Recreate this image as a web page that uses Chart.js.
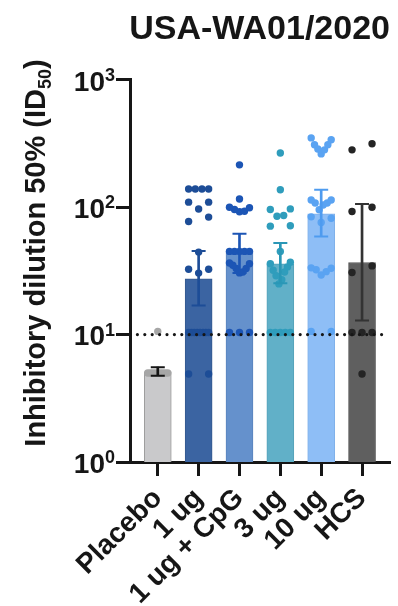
<!DOCTYPE html>
<html>
<head>
<meta charset="utf-8">
<script src="https://cdn.jsdelivr.net/npm/chart.js@4.4.1/dist/chart.umd.min.js"></script>
<style>
  html, body { margin: 0; padding: 0; background: #fff; }
  canvas { display: block; }
</style>
</head>
<body>
<canvas id="neut" width="398" height="606"></canvas>
<script>
// groups on the x axis
var groups = ['Placebo', '1 ug', '1 ug + CpG', '3 ug', '10 ug', 'HCS'];

// geometric mean (bar height) and error bar ends, per group
var gmt = [5.1, 27.4, 44.9, 35.9, 88.8, 36.8];
var errLow = [4.75, 16.9, 30.5, 25.3, 58.9, 12.9];
var errHigh = [5.55, 45.4, 61.8, 52.3, 137, 106];

// individual animals
var placebo = [10.6, 5, 5, 5, 5, 5, 5, 5, 5, 5];
var ug1 = [139, 139, 139, 139, 109.6, 109.6, 96.7, 83.6, 77.2, 44.4, 32.6, 32.6, 30.4,
           10.4, 10.4, 10.4, 10.4, 10.4, 10.4, 10.4, 10.4, 4.9, 4.9];
var ug1CpG = [215, 116, 100, 99, 96, 93, 92, 45, 45, 45, 45, 45,
              36.5, 35, 33, 31, 30.5, 33, 36, 10.4, 10.4, 10.4];
var ug3 = [266, 137, 97, 96, 86, 85, 71.5, 71, 45,
           37, 36, 34, 32, 31, 29, 27, 25, 10.4, 10.4, 10.4, 10.4, 10.4];
var ug10 = [350, 338, 309, 309, 286, 282, 262, 114, 114, 108, 108, 104, 95.5, 84, 82, 76,
            33.4, 33.2, 32.3, 31.2, 29.4, 10.6, 10.6];
var hcs = [315, 282, 100, 92.5, 34.6, 30.7, 10.4, 10.4, 10.4, 4.9];
var animals = [placebo, ug1, ug1CpG, ug3, ug10, hcs];

// detection limit line
var LOD = 10;

// y axis ticks (10^n)
var yTicks = [1, 10, 100, 1000];
var yTickExp = ['0', '1', '2', '3'];

var barColors = ['#c9c9cb', '#3b64a2', '#6591cc', '#61b0c8', '#8ebef6', '#5f5f5f'];
var barBorders = ['#9c9c9c', '#35598f', '#5a84bd', '#56a2b9', '#80b1ea', '#565656'];
var dotColors = ['#a6a6a6', '#1d4d97', '#1c55b5', '#2f9dbc', '#5aa3f2', '#242424'];
var errColors = ['#151515', '#1d4d97', '#1c55b5', '#2a97b6', '#4e9bef', '#333333'];

var INK = '#161616';
var FONT = '"Liberation Sans", Arial, Helvetica, sans-serif';
var X_MIN = -0.68, X_MAX = 5.66;

// dot plot layout: values close in height share a row, spread across the column
var PX_DECADE = 127, ROW_GAP = 7, SPREAD = 0.49;
function swarm(values, idx) {
  var pts = values.map(function (v) { return { v: v, ly: Math.log10(v) * PX_DECADE }; });
  pts.sort(function (a, b) { return b.v - a.v; });
  var rows = [];
  pts.forEach(function (p, k) {
    if (k && pts[k - 1].ly - p.ly <= ROW_GAP) rows[rows.length - 1].push(p);
    else rows.push([p]);
  });
  var out = [];
  rows.forEach(function (row) {
    var n = row.length, c = (n - 1) / 2;
    var slots = [];
    for (var i = 0; i < n; i++) slots.push(i);
    slots.sort(function (a, b) {
      var d = Math.abs(a - c) - Math.abs(b - c);
      if (Math.abs(d) > 1e-9) return d;
      return n % 2 ? b - a : a - b;
    });
    var asc = row.slice().sort(function (a, b) { return a.v - b.v; });
    asc.forEach(function (p, k) {
      var off = n > 1 ? (slots[k] / (n - 1) - 0.5) * SPREAD : 0;
      out.push({ x: idx + off, y: p.v });
    });
  });
  return out;
}

var datasets = [];
datasets.push({
  type: 'bar',
  data: groups.map(function (g, i) { return { x: i, y: gmt[i] }; }),
  backgroundColor: barColors,
  borderColor: barBorders,
  borderWidth: 1,
  barThickness: 27,
  grouped: false,
  order: 6
});
animals.forEach(function (vals, i) {
  datasets.push({
    type: 'scatter',
    data: swarm(vals, i),
    pointRadius: 3.7,
    pointBorderWidth: 0,
    pointBackgroundColor: dotColors[i],
    order: 5
  });
});
datasets.push({
  type: 'bar',
  data: groups.map(function (g, i) { return { x: i, y: [errLow[i], errHigh[i]] }; }),
  backgroundColor: errColors,
  borderWidth: 0,
  barThickness: 2,
  grouped: false,
  order: 4
});
[errLow, errHigh].forEach(function (ends) {
  datasets.push({
    type: 'scatter',
    data: groups.map(function (g, i) { return { x: i, y: ends[i] }; }),
    pointStyle: 'line',
    pointRadius: 7,
    pointBorderWidth: 2,
    pointBorderColor: errColors,
    order: 3
  });
});
datasets.push({
  type: 'line',
  data: [{ x: X_MIN, y: LOD }, { x: X_MAX, y: LOD }],
  borderColor: INK,
  borderWidth: 3.2,
  borderDash: [0, 7.4],
  borderCapStyle: 'round',
  pointRadius: 0,
  order: 1
});

var axisText = {
  id: 'axisText',
  afterDraw: function (chart) {
    var ctx = chart.ctx, ys = chart.scales.y;
    ctx.save();
    ctx.fillStyle = INK;
    yTicks.forEach(function (v, i) {
      var py = ys.getPixelForValue(v);
      ctx.font = 'bold 28px ' + FONT;
      ctx.textAlign = 'right';
      ctx.textBaseline = 'middle';
      ctx.fillText('10', 105, py + 3);
      ctx.font = 'bold 18px ' + FONT;
      ctx.textAlign = 'left';
      ctx.textBaseline = 'alphabetic';
      ctx.fillText(yTickExp[i], 105, py + 1);
    });
    // rotated y title with subscript
    var parts = [['Inhibitory dilution 50% (ID', 29, 0], ['50', 18, 6], [')', 29, 0]];
    var total = 0;
    parts.forEach(function (p) { ctx.font = 'bold ' + p[1] + 'px ' + FONT; p.w = ctx.measureText(p[0]).width; total += p.w; });
    ctx.translate(45, 253);
    ctx.rotate(-Math.PI / 2);
    ctx.textAlign = 'left';
    ctx.textBaseline = 'alphabetic';
    var x = -total / 2;
    parts.forEach(function (p) {
      ctx.font = 'bold ' + p[1] + 'px ' + FONT;
      ctx.fillText(p[0], x, p[2]);
      x += p.w;
    });
    ctx.restore();
  }
};

new Chart(document.getElementById('neut'), {
  type: 'bar',
  data: { datasets: datasets },
  options: {
    responsive: false,
    animation: false,
    events: [],
    layout: { padding: { left: 0, right: 8, top: 0, bottom: 0 } },
    plugins: {
      legend: { display: false },
      tooltip: { enabled: false },
      title: {
        display: true,
        text: 'USA-WA01/2020',
        align: 'end',
        color: INK,
        font: { family: FONT, size: 34, weight: 'bold' },
        padding: { top: 9, bottom: 30 }
      }
    },
    scales: {
      x: {
        type: 'linear',
        min: X_MIN,
        max: X_MAX,
        offset: false,
        afterBuildTicks: function (s) { s.ticks = groups.map(function (g, i) { return { value: i }; }); },
        afterFit: function (s) { s.height = 144; },
        ticks: {
          autoSkip: false,
          minRotation: 45,
          maxRotation: 45,
          padding: 6,
          color: INK,
          font: { family: FONT, size: 28, weight: 'bold' },
          callback: function (v) { return groups[Math.round(v)]; }
        },
        grid: { drawOnChartArea: false, drawTicks: true, tickLength: 14, lineWidth: 3, color: INK, offset: false },
        border: { display: true, width: 3, color: INK }
      },
      y: {
        type: 'logarithmic',
        min: 1,
        max: 1000,
        afterBuildTicks: function (s) { s.ticks = yTicks.map(function (v) { return { value: v }; }); },
        afterFit: function (s) { s.width = 130; },
        ticks: { display: false },
        grid: { drawOnChartArea: false, drawTicks: true, tickLength: 14, lineWidth: 3, color: INK },
        border: { display: true, width: 3, color: INK }
      }
    }
  },
  plugins: [axisText]
});
</script>
</body>
</html>
